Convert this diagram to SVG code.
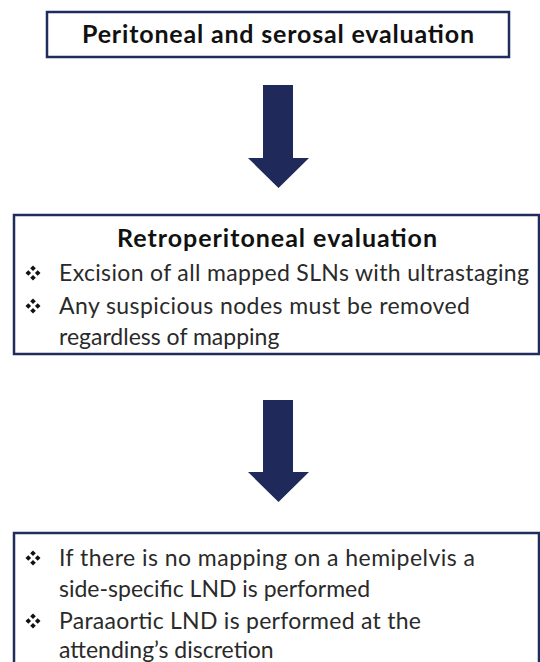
<svg xmlns="http://www.w3.org/2000/svg" width="540" height="662" viewBox="0 0 540 662">
  <style>
    .box { fill: #ffffff; stroke: #1f2d5c; stroke-width: 2.5; }
    .title { font-family: Lato, "Open Sans", "Liberation Sans", sans-serif; font-weight: bold; fill: #111111; text-anchor: middle; }
    .body { font-family: Lato, "Open Sans", "Liberation Sans", sans-serif; font-size: 23px; fill: #2a2a2a; }
    .arrow { fill: #1f2a5a; }
    .dia { fill: #111111; }
  </style>
  <defs>
    <g id="bullet">
      <polygon class="dia" points="0,-7.5 2.8,-4.7 0,-1.9 -2.8,-4.7"/>
      <polygon class="dia" points="-4.7,-2.8 -1.9,0 -4.7,2.8 -7.5,0"/>
      <polygon class="dia" points="4.7,-2.8 7.5,0 4.7,2.8 1.9,0"/>
      <polygon class="dia" points="0,1.9 2.8,4.7 0,7.5 -2.8,4.7"/>
    </g>
  </defs>
  <rect width="540" height="662" fill="#ffffff"/>

  <g id="node-peritoneal">
    <rect class="box" x="47" y="12" width="462" height="45"/>
    <text class="title" x="278" y="43" font-size="25" textLength="392">Peritoneal and serosal evaluation</text>
  </g>

  <g id="node-retroperitoneal">
    <rect class="box" x="14" y="215" width="525" height="139"/>
    <text class="title" x="277" y="247" font-size="25" textLength="320">Retroperitoneal evaluation</text>
    <use href="#bullet" x="33" y="273"/>
    <text class="body" x="59" y="281" textLength="470">Excision of all mapped SLNs with ultrastaging</text>
    <use href="#bullet" x="33" y="306"/>
    <text class="body" x="59" y="314" textLength="411">Any suspicious nodes must be removed</text>
    <text class="body" x="59" y="345">regardless of mapping</text>
  </g>

  <g id="node-lnd">
    <rect class="box" x="14" y="533" width="525" height="140"/>
    <use href="#bullet" x="33" y="558"/>
    <text class="body" x="59" y="566" textLength="416">If there is no mapping on a hemipelvis a</text>
    <text class="body" x="59" y="597">side-specific LND is performed</text>
    <use href="#bullet" x="33" y="621"/>
    <text class="body" x="59" y="629" textLength="362">Paraaortic LND is performed at the</text>
    <text class="body" x="59" y="658">attending’s discretion</text>
  </g>

  <g id="connectors">
    <polygon class="arrow" points="263,85 293,85 293,158 309,158 278.5,188 248,158 263,158"/>
    <polygon class="arrow" points="263,400 293,400 293,472 309,472 278.5,502 248,472 263,472"/>
  </g>
</svg>
